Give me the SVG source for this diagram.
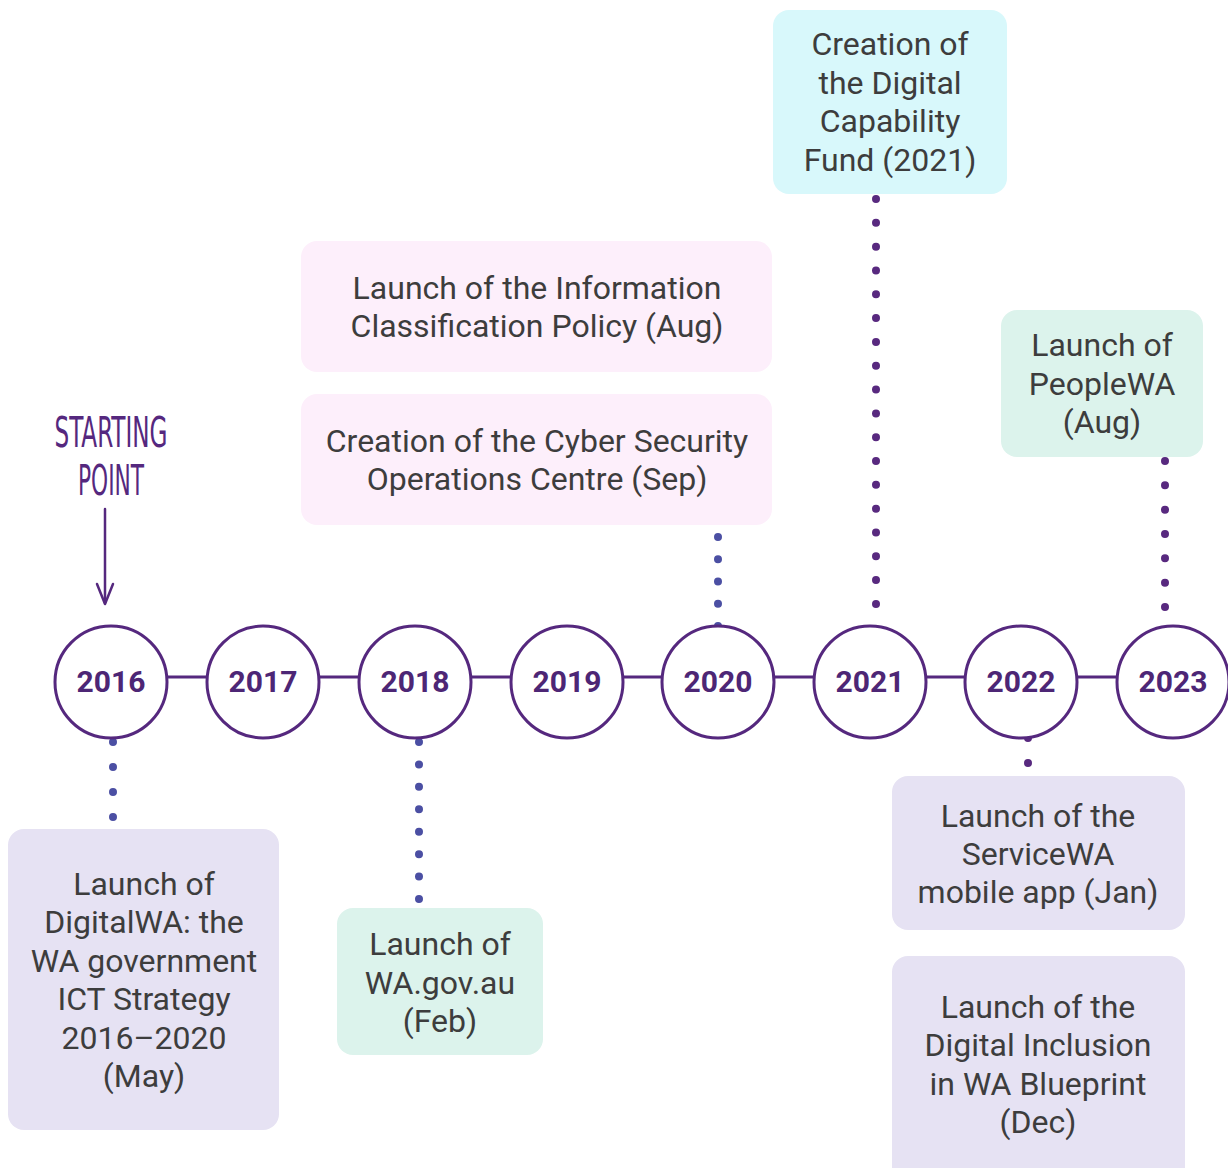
<svg xmlns="http://www.w3.org/2000/svg" width="1228" height="1168" viewBox="0 0 1228 1168">
<style>
.box text{font-family:Roboto,"Liberation Sans",sans-serif;font-size:32px;fill:#3d3d3d;text-anchor:middle}
.yr circle{fill:#fff;stroke:#55287e;stroke-width:3}
.yr text{font-family:Roboto,"Liberation Sans",sans-serif;font-size:30px;font-weight:bold;fill:#4d2675;text-anchor:middle}
.dotb{stroke:#4b4fa3;stroke-width:8;stroke-linecap:round;fill:none}
.dotp{stroke:#58297f;stroke-width:8;stroke-linecap:round;fill:none}
.lav{fill:#e6e2f3}.pink{fill:#fdeffb}.mint{fill:#dcf3ec}.cyan{fill:#d8f8fb}
</style>
<rect width="1228" height="1168" fill="#fff"/>
<g id="connectors">
<line x1="111" y1="677" x2="1173" y2="677" stroke="#55287e" stroke-width="3"/>
<line class="dotb" x1="113" y1="742" x2="113" y2="818" stroke-dasharray="0 25"/>
<line class="dotb" x1="419" y1="742" x2="419" y2="900" stroke-dasharray="0 22.43"/>
<line class="dotb" x1="718" y1="537" x2="718" y2="627" stroke-dasharray="0 22.25"/>
<line class="dotp" x1="876" y1="199" x2="876" y2="605" stroke-dasharray="0 23.82"/>
<line class="dotp" x1="1028" y1="738" x2="1028" y2="764" stroke-dasharray="0 25"/>
<line class="dotp" x1="1165" y1="461" x2="1165" y2="608" stroke-dasharray="0 24.33"/>
<g id="start-arrow" stroke="#55287e" stroke-width="2.5" fill="none" stroke-linecap="round" stroke-linejoin="round">
<line x1="105" y1="509" x2="105" y2="603"/>
<polyline points="97,584 105,604 113,584"/>
</g>
</g>
<g id="starting-point" font-family="'Liberation Sans Narrow','DejaVu Sans Condensed',sans-serif" fill="#55287e" font-size="42" text-anchor="middle">
<text x="111" y="447" textLength="113" lengthAdjust="spacingAndGlyphs">STARTING</text>
<text x="111" y="495" textLength="66" lengthAdjust="spacingAndGlyphs">POINT</text>
</g>
<g id="y2016" class="yr"><circle cx="111" cy="682" r="56"/><text x="111" y="692">2016</text></g>
<g id="y2017" class="yr"><circle cx="263" cy="682" r="56"/><text x="263" y="692">2017</text></g>
<g id="y2018" class="yr"><circle cx="415" cy="682" r="56"/><text x="415" y="692">2018</text></g>
<g id="y2019" class="yr"><circle cx="567" cy="682" r="56"/><text x="567" y="692">2019</text></g>
<g id="y2020" class="yr"><circle cx="718" cy="682" r="56"/><text x="718" y="692">2020</text></g>
<g id="y2021" class="yr"><circle cx="870" cy="682" r="56"/><text x="870" y="692">2021</text></g>
<g id="y2022" class="yr"><circle cx="1021" cy="682" r="56"/><text x="1021" y="692">2022</text></g>
<g id="y2023" class="yr"><circle cx="1173" cy="682" r="56"/><text x="1173" y="692">2023</text></g>
<g id="box-fund" class="box"><rect class="cyan" x="773" y="10" width="234" height="184" rx="16"/>
<text x="890" y="55">Creation of</text><text x="890" y="94">the Digital</text><text x="890" y="132">Capability</text><text x="890" y="171">Fund (2021)</text></g>
<g id="box-info" class="box"><rect class="pink" x="301" y="241" width="471" height="131" rx="16"/>
<text x="537" y="299">Launch of the Information</text><text x="537" y="337">Classification Policy (Aug)</text></g>
<g id="box-cyber" class="box"><rect class="pink" x="301" y="394" width="471" height="131" rx="16"/>
<text x="537" y="452">Creation of the Cyber Security</text><text x="537" y="490">Operations Centre (Sep)</text></g>
<g id="box-people" class="box"><rect class="mint" x="1001" y="310" width="202" height="147" rx="16"/>
<text x="1102" y="356">Launch of</text><text x="1102" y="395">PeopleWA</text><text x="1102" y="433">(Aug)</text></g>
<g id="box-digitalwa" class="box"><rect class="lav" x="8" y="829" width="271" height="301" rx="16"/>
<text x="144" y="895">Launch of</text><text x="144" y="933">DigitalWA: the</text><text x="144" y="972">WA government</text><text x="144" y="1010">ICT Strategy</text><text x="144" y="1049">2016–2020</text><text x="144" y="1087">(May)</text></g>
<g id="box-wagov" class="box"><rect class="mint" x="337" y="908" width="206" height="147" rx="16"/>
<text x="440" y="955">Launch of</text><text x="440" y="994">WA.gov.au</text><text x="440" y="1032">(Feb)</text></g>
<g id="box-servicewa" class="box"><rect class="lav" x="892" y="776" width="293" height="154" rx="16"/>
<text x="1038" y="827">Launch of the</text><text x="1038" y="865">ServiceWA</text><text x="1038" y="903">mobile app (Jan)</text></g>
<g id="box-inclusion" class="box"><rect class="lav" x="892" y="956" width="293" height="230" rx="16"/>
<text x="1038" y="1018">Launch of the</text><text x="1038" y="1056">Digital Inclusion</text><text x="1038" y="1095">in WA Blueprint</text><text x="1038" y="1133">(Dec)</text></g>
</svg>
